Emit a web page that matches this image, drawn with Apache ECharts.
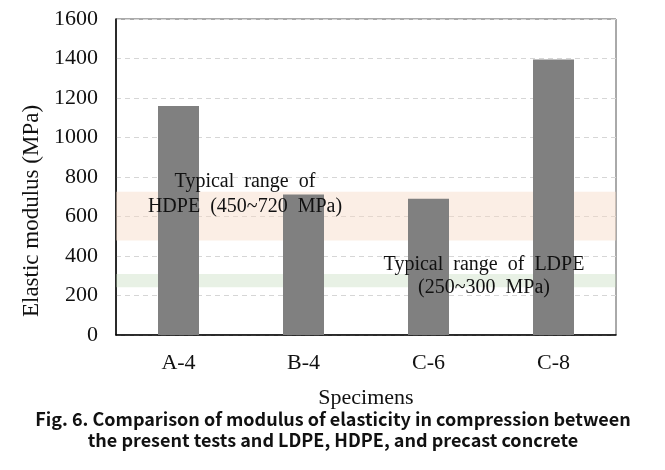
<!DOCTYPE html>
<html>
<head>
<meta charset="utf-8">
<script src="https://cdn.jsdelivr.net/npm/echarts@6/dist/echarts.min.js"></script>
<style>html,body{margin:0;padding:0;background:#fff}#c{width:665px;height:470px}</style>
</head>
<body>
<div id="c"></div>
<script>
var categories = ['A-4', 'B-4', 'C-6', 'C-8'];
var modulus = [1160, 712, 690, 1395];
var hdpeBand = [478, 725];
var ldpeBand = [242, 309];
var yTicks = [0, 200, 400, 600, 800, 1000, 1200, 1400, 1600];

var serif = '"Liberation Serif", "DejaVu Serif", serif';
var chart = echarts.init(document.getElementById('c'));
chart.setOption({
  animation: false,
  backgroundColor: '#fff',
  grid: { left: 116, top: 19, right: 49, bottom: 135, show: true, borderColor: '#555', borderWidth: 1, backgroundColor: 'transparent' },
  xAxis: {
    type: 'category', data: categories,
    axisLine: { lineStyle: { color: '#000', width: 1.5 } },
    axisTick: { show: false },
    axisLabel: { color: '#111', fontFamily: serif, fontSize: 22, margin: 17 },
    name: 'Specimens', nameLocation: 'middle', nameGap: 52,
    nameTextStyle: { color: '#111', fontFamily: serif, fontSize: 22 }
  },
  yAxis: {
    type: 'value', min: yTicks[0], max: yTicks[yTicks.length - 1], interval: 200,
    axisLine: { show: true, lineStyle: { color: '#000', width: 1.5 } },
    axisTick: { show: false },
    splitLine: { lineStyle: { color: '#d6d6d6', type: [5, 4], width: 1 } },
    axisLabel: { color: '#111', fontFamily: serif, fontSize: 22, margin: 18, formatter: function (v) { return String(v); } }
  },
  series: [{
    type: 'bar', data: modulus, barWidth: 41,
    itemStyle: { color: '#808080' },
    markArea: {
      silent: true,
      label: { show: false },
      data: [
        [{ yAxis: hdpeBand[0], itemStyle: { color: 'rgba(246,218,198,0.45)' } }, { yAxis: hdpeBand[1] }],
        [{ yAxis: ldpeBand[0], itemStyle: { color: 'rgba(190,215,180,0.35)' } }, { yAxis: ldpeBand[1] }]
      ]
    },
    z: 2
  }],
  graphic: [
    { type: 'text', x: 32, y: 211, rotation: Math.PI / 2, z: 100, style: { text: 'Elastic modulus (MPa)', fill: '#111', font: '23px ' + serif, align: 'center', verticalAlign: 'middle' } },
    { type: 'text', x: 245, y: 194, z: 100, style: { text: 'Typical  range  of\nHDPE  (450~720  MPa)', fill: '#111', font: '20px ' + serif, align: 'center', verticalAlign: 'middle', lineHeight: 25 } },
    { type: 'text', x: 484, y: 276, z: 100, style: { text: 'Typical  range  of  LDPE\n(250~300  MPa)', fill: '#111', font: '20px ' + serif, align: 'center', verticalAlign: 'middle', lineHeight: 23 } },
    { type: 'text', x: 333, y: 430, z: 100, style: { text: 'Fig. 6. Comparison of modulus of elasticity in compression between\nthe present tests and LDPE, HDPE, and precast concrete', fill: '#111', font: 'bold 18px "Noto Sans CJK KR", "Noto Sans", sans-serif', align: 'center', verticalAlign: 'middle', lineHeight: 21 } }
  ]
});
</script>
</body>
</html>
